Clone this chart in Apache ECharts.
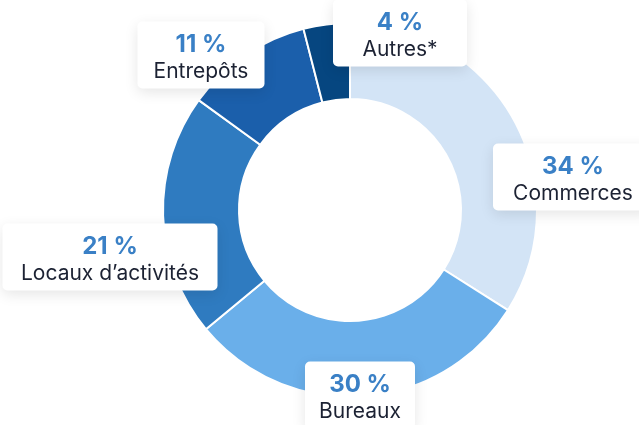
<!DOCTYPE html>
<html><head><meta charset="utf-8">
<script src="https://cdn.jsdelivr.net/npm/echarts@6/dist/echarts.min.js"></script>
<style>html,body{margin:0;padding:0;background:#fff}#c{width:639px;height:425px}</style>
</head><body><div id="c"></div>
<script>
const categories = ['Commerces', 'Bureaux', 'Locaux d’activités', 'Entrepôts', 'Autres*'];
const values = [34, 30, 21, 11, 4];
const colors = ['#d3e4f6', '#6aafea', '#2f7bc0', '#1b5fab', '#064680'];
// label box layout (centre x, centre y, width)
const labelBoxes = [
  [573, 177, 160],
  [360, 395, 110],
  [110, 257, 215],
  [201, 55, 127],
  [400, 33, 134]
];
const chart = echarts.init(document.getElementById('c'));
const FONT = 'Inter';
chart.setOption({
  animation: false,
  series: [{
    type: 'pie',
    center: [350, 210],
    radius: [111, 187],
    startAngle: 90,
    clockwise: true,
    avoidLabelOverlap: false,
    itemStyle: { borderColor: '#fff', borderWidth: 2 },
    labelLine: { show: false },
    data: categories.map((n, i) => ({
      name: n, value: values[i],
      itemStyle: { color: colors[i] },
      label: { width: labelBoxes[i][2] }
    })),
    label: {
      show: true,
      position: 'outside',
      formatter: p => '{p|' + p.value + ' %}\n{n|' + p.name + '}',
      backgroundColor: '#fff',
      borderRadius: 5,
      padding: [10, 0, 3, 0],
      align: 'center',
      shadowColor: 'rgba(0,0,0,0.10)',
      shadowBlur: 14,
      shadowOffsetY: 4,
      rich: {
        p: { fontFamily: FONT, fontSize: 24, fontWeight: 'bold', color: '#3a80c6', lineHeight: 27, align: 'center' },
        n: { fontFamily: FONT, fontSize: 21, color: '#1c2233', lineHeight: 27, align: 'center' }
      }
    },
    labelLayout: p => ({
      x: labelBoxes[p.dataIndex][0],
      y: labelBoxes[p.dataIndex][1],
      align: 'center',
      verticalAlign: 'middle'
    })
  }]
});
</script></body></html>
